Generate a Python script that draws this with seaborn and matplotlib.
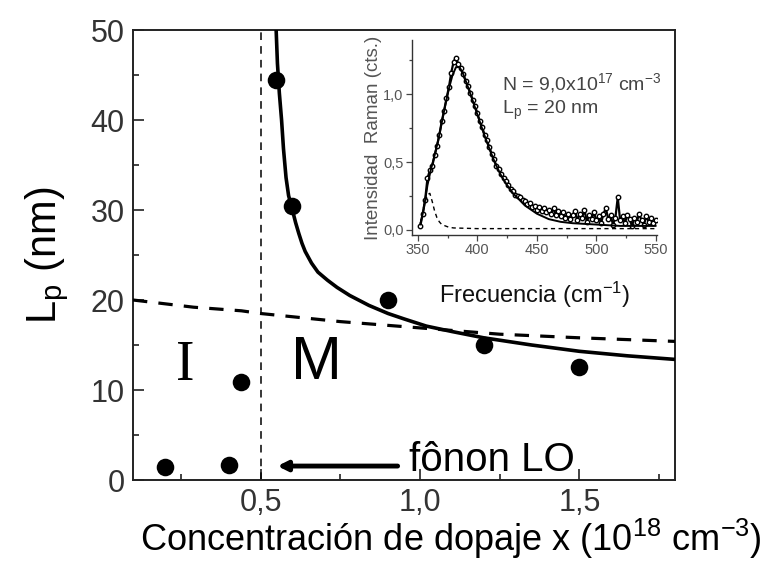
import matplotlib
matplotlib.use("Agg")
import matplotlib.pyplot as plt
import seaborn as sns
import pandas as pd
from matplotlib.ticker import MultipleLocator, FuncFormatter

# ---------------- data ----------------
conc_x = [0.20, 0.40, 0.44, 0.55, 0.60, 0.90, 1.20, 1.50]
lp_y = [1.4, 1.7, 10.9, 44.5, 30.4, 20.0, 15.0, 12.6]

fit_x = [0.549, 0.553, 0.559, 0.566, 0.572, 0.580, 0.588, 0.600, 0.610, 0.620,
         0.630, 0.640, 0.660, 0.680, 0.710, 0.740, 0.780, 0.840, 0.900, 0.950,
         1.020, 1.100, 1.200, 1.350, 1.500, 1.650, 1.800]
fit_y = [50.0, 46.3, 43.0, 40.0, 36.8, 33.6, 31.6, 30.0, 28.6, 27.4,
         26.3, 25.4, 24.1, 23.1, 22.2, 21.4, 20.5, 19.4, 18.5, 17.9,
         17.1, 16.5, 15.8, 15.0, 14.3, 13.8, 13.4]

dash_x = [0.10, 0.29, 0.44, 0.50, 0.75, 1.00, 1.25, 1.50, 1.80]
dash_y = [20.0, 19.2, 18.8, 18.5, 17.6, 16.9, 16.2, 15.8, 15.4]

# inset: Raman spectrum
freq_data = list(range(352, 551, 2))
int_data = [0.03, 0.12, 0.22, 0.38, 0.44, 0.47, 0.55, 0.62, 0.70, 0.80,
            0.88, 0.97, 1.05, 1.16, 1.24, 1.27, 1.22, 1.19, 1.15, 1.10,
            1.06, 1.01, 0.96, 0.91, 0.86, 0.80, 0.76, 0.70, 0.66, 0.61,
            0.56, 0.52, 0.47, 0.45, 0.41, 0.38, 0.36, 0.33, 0.30, 0.29,
            0.26, 0.25, 0.24, 0.22, 0.21, 0.19, 0.20, 0.17, 0.18, 0.15,
            0.17, 0.14, 0.16, 0.13, 0.15, 0.12, 0.16, 0.11, 0.14, 0.10,
            0.13, 0.09, 0.12, 0.08, 0.11, 0.14, 0.07, 0.12, 0.09, 0.15,
            0.06, 0.11, 0.08, 0.13, 0.07, 0.10, 0.05, 0.12, 0.16, 0.08,
            0.11, 0.04, 0.09, 0.24, 0.07, 0.10, 0.05, 0.11, 0.08, 0.03,
            0.09, 0.06, 0.12, 0.07, 0.04, 0.10, 0.06, 0.09, 0.05, 0.07]

freq_fit = [352, 355, 358, 361, 364, 367, 370, 373, 376, 379, 382, 385, 388, 391,
            395, 400, 405, 410, 415, 420, 425, 430, 440, 450, 460, 470, 480, 500,
            520, 550]
int_fit = [0.04, 0.16, 0.33, 0.45, 0.55, 0.66, 0.79, 0.92, 1.04, 1.14, 1.20, 1.20,
           1.15, 1.08, 0.98, 0.85, 0.72, 0.60, 0.49, 0.40, 0.33, 0.27, 0.18, 0.12,
           0.08, 0.06, 0.05, 0.04, 0.03, 0.03]

freq_lo = [352, 355, 358, 360, 362, 364, 366, 368, 370, 373, 376, 380, 400, 450, 500, 550]
int_lo = [0.05, 0.18, 0.26, 0.27, 0.21, 0.14, 0.09, 0.06, 0.04, 0.03, 0.02, 0.015,
          0.01, 0.01, 0.01, 0.01]

# ---------------- style ----------------
sns.set_theme(style="white")
plt.rcParams["font.family"] = ["Liberation Sans", "DejaVu Sans"]
plt.rcParams["mathtext.fontset"] = "custom"
plt.rcParams["mathtext.rm"] = "Liberation Sans"
plt.rcParams["mathtext.it"] = "Liberation Sans:italic"
plt.rcParams["mathtext.bf"] = "Liberation Sans:bold"

fig = plt.figure(figsize=(7.68, 5.69), dpi=100)
fig.patch.set_facecolor("white")
ax = fig.add_axes([133 / 768, 1 - 480 / 569, 542 / 768, 450 / 569])

df_pts = pd.DataFrame({"x": conc_x, "y": lp_y})
df_fit = pd.DataFrame({"x": fit_x, "y": fit_y})
df_dash = pd.DataFrame({"x": dash_x, "y": dash_y})

ax.axvline(0.5, color="black", lw=1.1, ls=(0, (5, 4)), zorder=1)
sns.lineplot(data=df_fit, x="x", y="y", ax=ax, color="black", lw=2.6,
             sort=False, estimator=None, zorder=3)
sns.lineplot(data=df_dash, x="x", y="y", ax=ax, color="black", lw=2.3,
             sort=False, estimator=None, zorder=3)
ax.lines[-1].set_dashes([4.5, 3.5])
sns.scatterplot(data=df_pts, x="x", y="y", ax=ax, color="black", s=160,
                edgecolor="black", linewidth=0, zorder=4)

ax.set_xlim(0.1, 1.8)
ax.set_ylim(0, 50)
ax.xaxis.set_major_locator(MultipleLocator(0.5))
ax.xaxis.set_minor_locator(MultipleLocator(0.25))
ax.yaxis.set_major_locator(MultipleLocator(10))
ax.yaxis.set_minor_locator(MultipleLocator(5))
ax.xaxis.set_major_formatter(FuncFormatter(lambda v, p: f"{v:.1f}".replace(".", ",")))
ax.yaxis.set_major_formatter(FuncFormatter(lambda v, p: f"{v:.0f}"))
ax.tick_params(which="both", direction="in", bottom=True, left=True, top=False,
               right=False, color="#222222", width=1.2)
ax.tick_params(which="major", length=8, labelsize=22, labelcolor="#333333", pad=6)
ax.tick_params(which="minor", length=4)
for s in ax.spines.values():
    s.set_color("#222222")
    s.set_linewidth(1.4)

ax.set_xlabel("Concentración de dopaje x (10$^{18}$ cm$^{-3}$)", fontsize=26,
              color="black", labelpad=-1, x=0.587)
ax.set_ylabel("L$_\\mathrm{p}$ (nm)", fontsize=30, color="black", labelpad=14)

ax.text(0.265, 12.7, "I", fontsize=40, family=["Liberation Serif"],
        ha="center", va="center", color="black")
ax.text(0.595, 12.9, "M", fontsize=44, ha="left", va="center", color="black")
ax.text(0.966, 1.0, "fônon LO", fontsize=29, ha="left", va="baseline",
        color="black")
ax.annotate("", xy=(0.553, 1.55), xytext=(0.93, 1.55),
            arrowprops=dict(arrowstyle="-|>", lw=3.5, color="black",
                            mutation_scale=14, shrinkA=0, shrinkB=0))

# ---------------- inset ----------------
axin = fig.add_axes([412 / 768, 1 - 235 / 569, 245 / 768, 195 / 569])
axin.set_facecolor("none")
df_spec = pd.DataFrame({"f": freq_data, "i": int_data})
df_sfit = pd.DataFrame({"f": freq_fit, "i": int_fit})
df_lo = pd.DataFrame({"f": freq_lo, "i": int_lo})
sns.lineplot(data=df_spec, x="f", y="i", ax=axin, color="black", lw=1.6,
             marker="o", markersize=3.2, markerfacecolor="white",
             markeredgecolor="black", markeredgewidth=1.0,
             sort=False, estimator=None)
sns.lineplot(data=df_sfit, x="f", y="i", ax=axin, color="black", lw=1.4,
             sort=False, estimator=None)
sns.lineplot(data=df_lo, x="f", y="i", ax=axin, color="black", lw=1.0,
             sort=False, estimator=None)
axin.lines[-1].set_dashes([3, 2.5])

axin.set_xlim(345, 551)
axin.set_ylim(-0.037, 1.40)
axin.xaxis.set_major_locator(MultipleLocator(50))
axin.xaxis.set_minor_locator(MultipleLocator(25))
axin.yaxis.set_major_locator(MultipleLocator(0.5))
axin.yaxis.set_minor_locator(MultipleLocator(0.25))
axin.yaxis.set_major_formatter(FuncFormatter(lambda v, p: f"{v:.1f}".replace(".", ",")))
axin.tick_params(which="both", direction="out", color="#444444", width=0.9,
                 bottom=True, left=True)
axin.tick_params(which="major", length=4, labelsize=10.5, labelcolor="#555555", pad=2)
axin.tick_params(which="minor", length=2.5)
for side in ["top", "right"]:
    axin.spines[side].set_visible(False)
for side in ["left", "bottom"]:
    axin.spines[side].set_color("#333333")
    axin.spines[side].set_linewidth(1.0)
axin.set_xlabel("Frecuencia (cm$^{-1}$)", fontsize=17, color="#111111", labelpad=16)
axin.set_ylabel("Intensidad  Raman (cts.)", fontsize=13.5, color="#555555", labelpad=1)
axin.text(421, 1.08, "N = 9,0x10$^{17}$ cm$^{-3}$", fontsize=14, color="#444444",
          ha="left", va="center")
axin.text(421, 0.88, "L$_\\mathrm{p}$ = 20 nm", fontsize=14, color="#444444",
          ha="left", va="center")

fig.savefig("out.png", dpi=100, facecolor="white")
